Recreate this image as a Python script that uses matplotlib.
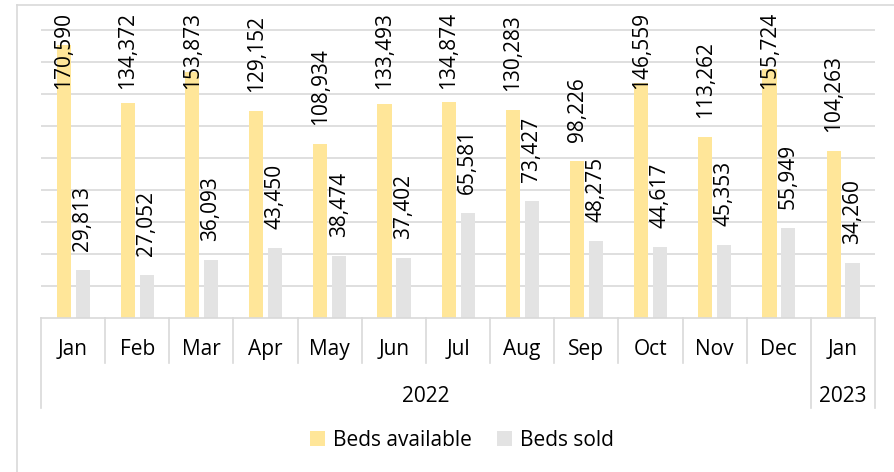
import numpy as np
import matplotlib.pyplot as plt
from matplotlib.lines import Line2D

months = ['Jan', 'Feb', 'Mar', 'Apr', 'May', 'Jun', 'Jul', 'Aug', 'Sep', 'Oct', 'Nov', 'Dec', 'Jan']
years = ['2022', '2023']
year_spans = [12, 1]
available = [170590, 134372, 153873, 129152, 108934, 133493, 134874, 130283, 98226, 146559, 113262, 155724, 104263]
sold = [29813, 27052, 36093, 43450, 38474, 37402, 65581, 73427, 48275, 44617, 45353, 55949, 34260]

plt.rcParams['font.family'] = ['Open Sans', 'DejaVu Sans']
FS = 15
W, H = 894, 472
GRID = '#D9D9D9'

fig = plt.figure(figsize=(W / 100, H / 100), dpi=100)
ax = fig.add_axes([41 / W, 1 - 318 / H, (875 - 41) / W, (318 - 13) / H])

x = np.arange(len(months))
b1 = ax.bar(x - 0.145, available, 0.22, color='#FFE699', label='Beds available', zorder=2)
b2 = ax.bar(x + 0.15, sold, 0.22, color='#E3E3E3', label='Beds sold', zorder=2)

ax.set_xlim(-0.5, len(months) - 0.5)
ax.set_ylim(0, 190600)
ax.set_yticks(np.arange(20000, 180001, 20000))
ax.yaxis.grid(True, color=GRID, linewidth=1.2, zorder=0)
ax.tick_params(axis='y', length=0, labelleft=False)
for s in ['left', 'right', 'top']:
    ax.spines[s].set_visible(False)
ax.spines['bottom'].set_color(GRID)
ax.spines['bottom'].set_linewidth(1.2)

ax.set_xticks(x)
ax.set_xticklabels(months, fontsize=FS)
ax.tick_params(axis='x', length=0, pad=15)

# category separators below the axis
px = 1 / (318 - 13)
trans = ax.get_xaxis_transform()
bounds = np.concatenate([[0], np.cumsum(year_spans)]) - 0.5
for b in np.arange(-0.5, len(months), 1.0):
    low = -90 * px if b in bounds else -45 * px
    ax.add_line(Line2D([b, b], [0, low], transform=trans, color=GRID, lw=1.2, clip_on=False))
for i, yr in enumerate(years):
    ax.text((bounds[i] + bounds[i + 1]) / 2, -78 * px, yr, transform=trans,
            ha='center', va='center', fontsize=FS)

labels = []
for bars in (b1, b2):
    for r in bars:
        t = ax.annotate(f'{int(r.get_height()):,}', (r.get_x() + r.get_width() / 2, r.get_height()),
                        xytext=(0, 19 * 0.72), textcoords='offset points',
                        rotation=90, ha='center', va='bottom', fontsize=FS, zorder=3)
        labels.append(t)

fig.legend(loc='center', bbox_to_anchor=(462 / W, 1 - 440 / H), ncol=2, frameon=False,
           fontsize=FS, handlelength=0.7, handleheight=0.7, columnspacing=1.2, handletextpad=0.4)

# chart frame (left and top edges visible)
fig.add_artist(Line2D([17 / W, 17 / W], [0, 1 - 5 / H], color=GRID, lw=1.2))
fig.add_artist(Line2D([17 / W, 1], [1 - 5 / H, 1 - 5 / H], color=GRID, lw=1.2))

# keep labels inside the plot area, like the original
fig.canvas.draw()
r = fig.canvas.get_renderer()
limit = H - 12
for t in labels:
    bb = t.get_window_extent(r)
    if bb.y1 > limit:
        t.xyann = (0, t.xyann[1] - (bb.y1 - limit) * 0.72)

fig.savefig('out.png', dpi=100)
